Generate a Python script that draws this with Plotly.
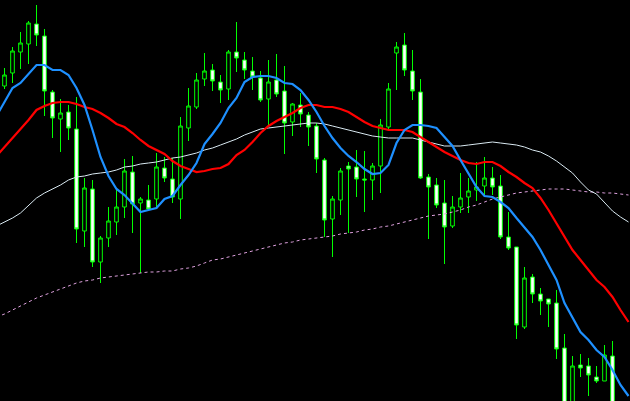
import plotly.graph_objects as go

# candle index positions
candle_idx = list(range(0, 77))
opens = [414, 427, 448, 456, 476, 464, 408, 381, 388, 371,
         269, 311, 238, 262, 278, 293, 328, 297, 300, 301,
         332, 321, 301, 372, 393, 421, 430, 418, 411, 448,
         440, 429, 422, 401, 420, 409, 378, 395, 385, 374,
         340, 281, 300, 334, 333, 321, 320, 334, 373, 447,
         455, 429, 408, 323, 315, 297, 274, 293, 303, 310,
         314, 322, 314, 263, 253, 173, 223, 206, 201, 197,
         152, 95, 135, 134, 123, 119, 144]
highs = [432, 453, 468, 479, 495, 471, 410, 401, 395, 403,
         322, 320, 264, 293, 310, 341, 344, 303, 315, 347,
         343, 342, 383, 412, 427, 447, 436, 425, 450, 478,
         448, 443, 429, 440, 446, 434, 397, 407, 388, 377,
         342, 304, 332, 338, 350, 349, 337, 381, 417, 458,
         467, 450, 421, 326, 322, 320, 304, 327, 322, 338,
         343, 333, 325, 288, 253, 233, 226, 212, 201, 210,
         166, 144, 146, 142, 134, 155, 159]
lows = [411, 417, 431, 436, 454, 384, 362, 348, 360, 257,
        253, 233, 217, 253, 265, 282, 267, 227, 290, 292,
        318, 297, 281, 359, 391, 414, 409, 397, 400, 428,
        421, 410, 398, 373, 403, 346, 364, 373, 354, 327,
        263, 243, 285, 267, 303, 288, 300, 307, 370, 410,
        424, 400, 321, 261, 292, 236, 272, 287, 287, 299,
        305, 305, 261, 250, 161, 171, 197, 185, 173, 141,
        85, 88, 123, 104, 117, 119, 90]
closes = [425, 449, 457, 477, 465, 409, 382, 387, 372, 271,
          312, 238, 262, 279, 293, 329, 296, 301, 291, 333,
          322, 303, 374, 394, 420, 429, 419, 410, 448, 442,
          430, 423, 400, 418, 406, 377, 396, 386, 373, 341,
          280, 301, 329, 331, 321, 320, 334, 375, 411, 453,
          430, 409, 322, 313, 295, 273, 293, 302, 309, 313,
          322, 313, 263, 252, 175, 222, 206, 199, 196, 151,
          92, 134, 132, 125, 119, 145, 95]

# moving averages sampled at bar positions -1 .. 78
ma_idx = list(range(-1, 79))
ma_fast = [384, 398, 412, 417, 426, 435, 435, 430, 430, 425,
           412, 395, 370, 343, 324, 311, 305, 296, 288, 290,
           292, 301, 304, 315, 325, 337, 356, 366, 377, 392,
           402, 418, 423, 424, 424, 422, 417, 416, 410, 400,
           388, 374, 362, 352, 344, 338, 331, 326, 327, 335,
           357, 370, 375, 375, 374, 372, 363, 354, 340, 327,
           313, 304, 303, 298, 292, 282, 273, 263, 250, 235,
           220, 197, 183, 168, 160, 150, 143, 130, 115, 104]
ma_mid = [344, 353, 362, 370, 380, 390, 394, 397, 398, 398,
          396, 393, 391, 387, 382, 376, 373, 367, 360, 354,
          350, 346, 339, 334, 331, 328, 329, 331, 332, 336,
          345, 350, 358, 367, 374, 379, 383, 387, 392, 395,
          395, 393, 393, 391, 388, 383, 378, 374, 372, 370,
          370, 370, 368, 363, 358, 353, 348, 344, 340, 337,
          336, 338, 338, 334, 328, 323, 317, 312, 302, 290,
          277, 263, 250, 240, 230, 220, 213, 203, 190, 178]
ma_slow = [274, 278, 282, 287, 295, 302, 307, 311, 315, 320,
           323, 324, 326, 327, 328, 330, 333, 334, 336, 337,
           338, 340, 342, 343, 345, 347, 350, 352, 355, 358,
           361, 365, 368, 371, 372, 373, 374, 375, 376, 377,
           377, 376, 374, 372, 370, 368, 366, 364, 363, 362,
           362, 362, 362, 360, 358, 356, 354, 354, 354, 355,
           356, 357, 358, 357, 356, 355, 353, 350, 348, 344,
           339, 333, 327, 318, 310, 306, 297, 289, 283, 278]
ma_long = [183, 186, 190, 194, 198, 202, 205, 208, 211, 214,
           217, 219, 220, 222, 223, 224, 225, 226, 227, 228,
           228, 229, 229, 231, 232, 234, 237, 240, 241, 243,
           245, 247, 249, 251, 253, 255, 257, 258, 260, 261,
           262, 263, 264, 266, 267, 268, 270, 271, 273, 274,
           276, 278, 280, 282, 284, 285, 286, 288, 290, 293,
           295, 298, 301, 303, 305, 307, 308, 309, 310, 311,
           311, 311, 310, 309, 308, 308, 307, 307, 306, 305]

fig = go.Figure()

fig.add_trace(go.Candlestick(
    x=candle_idx, open=opens, high=highs, low=lows, close=closes,
    increasing=dict(line=dict(color="#00FF00", width=1), fillcolor="#000000"),
    decreasing=dict(line=dict(color="#00FF00", width=1), fillcolor="#FFFFFF"),
    whiskerwidth=0, showlegend=False, hoverinfo="skip",
))

fig.add_trace(go.Scatter(x=ma_idx, y=ma_long, mode="lines",
                         line=dict(color="#DDA0DD", width=1, dash="3px,3px"),
                         showlegend=False, hoverinfo="skip"))
fig.add_trace(go.Scatter(x=ma_idx, y=ma_slow, mode="lines",
                         line=dict(color="#D8E8F0", width=1),
                         showlegend=False, hoverinfo="skip"))
fig.add_trace(go.Scatter(x=ma_idx, y=ma_mid, mode="lines",
                         line=dict(color="#FF0000", width=2.2),
                         showlegend=False, hoverinfo="skip"))
fig.add_trace(go.Scatter(x=ma_idx, y=ma_fast, mode="lines",
                         line=dict(color="#1E90FF", width=2.2),
                         showlegend=False, hoverinfo="skip"))

fig.update_layout(
    width=630, height=401,
    margin=dict(l=0, r=0, t=0, b=0),
    paper_bgcolor="#000000", plot_bgcolor="#000000",
    boxgap=0.35,
    xaxis=dict(range=[-0.5625, 78.1875], visible=False, showgrid=False,
               zeroline=False, rangeslider=dict(visible=False), fixedrange=True),
    yaxis=dict(range=[99, 500], visible=False, showgrid=False,
               zeroline=False, fixedrange=True),
    showlegend=False,
)

fig.write_html(
    "out.html",
    config={"displayModeBar": False},
    post_script="document.body.style.margin='0';document.body.style.padding='0';"
                "document.body.style.background='#000';"
                "document.body.style.overflow='hidden';",
)
